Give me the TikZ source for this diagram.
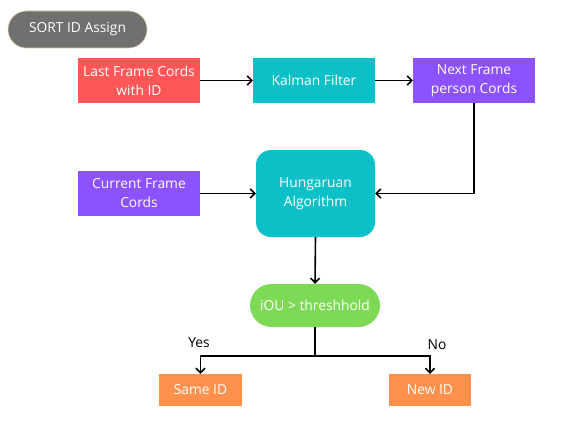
\documentclass[tikz,border=0pt]{standalone}
\usepackage{fontspec}
\setmainfont{Open Sans}
\usetikzlibrary{arrows.meta}
\definecolor{cred}{HTML}{FF5757}
\definecolor{cteal}{HTML}{0CC0C7}
\definecolor{cpurple}{HTML}{8C52FF}
\definecolor{cgreen}{HTML}{7ED957}
\definecolor{corange}{HTML}{FF914D}
\definecolor{cgray}{HTML}{707070}
\definecolor{ctan}{HTML}{D9C99A}
\tikzset{
  box/.style={minimum width=122pt, minimum height=45pt, inner sep=0pt, text=white, align=center, font=\fontsize{13.8}{19}\selectfont},
  conn/.style={line width=1.6pt, black},
  arr/.style={conn, -{Straight Barb[length=4.5pt, width=9pt, line width=1.6pt]}},
}
\begin{document}
\begin{tikzpicture}[x=1pt,y=-1pt]
\useasboundingbox (0,0) rectangle (577,433);
\fill[white] (0,0) rectangle (577,433);
\node[box, fill=cgray, draw=ctan, line width=0.6pt, minimum width=139pt, minimum height=37pt, rounded corners=18.5pt] (title) at (77.5,29.5) {SORT ID Assign};
\node[box, fill=cred] (last) at (139,80.5) {Last Frame Cords\\with ID};
\node[box, fill=cteal] (kal) at (314,80.5) {Kalman Filter};
\node[box, fill=cpurple] (next) at (474,80.5) {Next Frame\\person Cords};
\node[box, fill=cpurple] (cur) at (139,193.5) {Current Frame\\Cords};
\node[box, fill=cteal, minimum width=119pt, minimum height=87pt, rounded corners=15pt] (hung) at (315.5,193.5) {Hungaruan\\Algorithm};
\node[box, fill=cgreen, minimum width=130pt, minimum height=43pt, rounded corners=21.5pt] (iou) at (315,305.5) {iOU > threshhold};
\node[box, fill=corange, minimum width=83pt, minimum height=32pt] (same) at (200.5,390) {Same ID};
\node[box, fill=corange, minimum width=82pt, minimum height=32pt] (new) at (430,390) {New ID};
\coordinate (split) at (315,356);
\draw[arr] (last) -- (kal);
\draw[arr] (kal) -- (next);
\draw[arr] (next.south) |- (hung.east);
\draw[arr] (cur) -- (hung);
\draw[arr] (hung.south) -- (iou.north);
\draw[conn] (iou.south) -- (split);
\draw[arr] (split) -| (same.north);
\draw[arr] (split) -| (new.north);
\node[font=\fontsize{13.8}{16}\selectfont] (yes) at (199,343) {Yes};
\node[font=\fontsize{13.8}{16}\selectfont] (no) at (437,345) {No};
\end{tikzpicture}
\end{document}
